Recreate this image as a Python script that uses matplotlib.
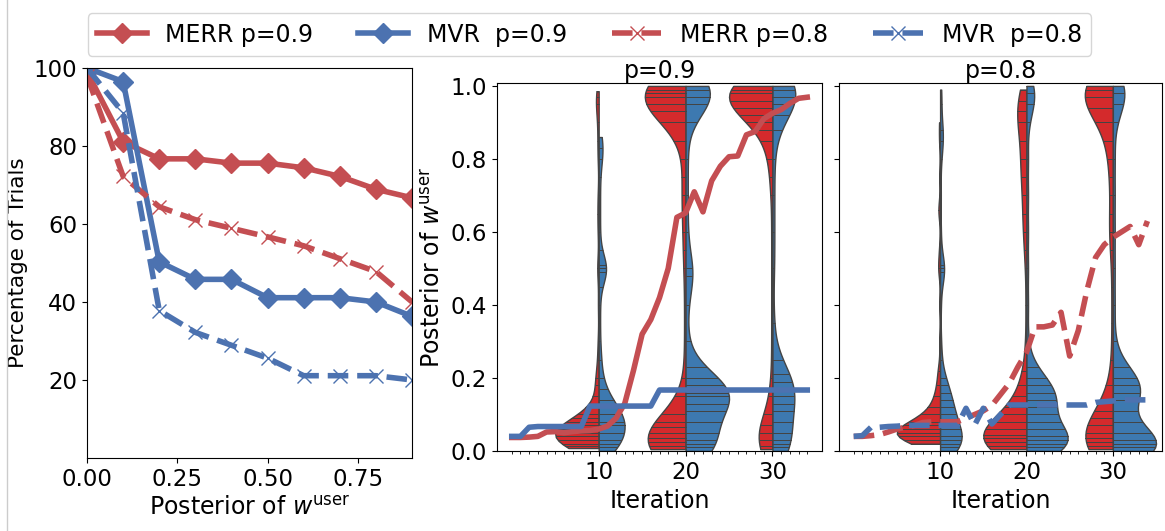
import numpy as np
import pandas as pd
import matplotlib
matplotlib.use("Agg")
import matplotlib.pyplot as plt
import seaborn as sns
from matplotlib.lines import Line2D

RED = "#c44e52"
BLUE = "#4c72b0"
VRED = "#d42a2c"
VBLUE = "#3d79b0"

# ---- left panel: percentage of trials vs posterior threshold ----
thresh = [0.0, 0.1, 0.2, 0.3, 0.4, 0.5, 0.6, 0.7, 0.8, 0.9]
merr_09 = [99, 81.1, 76.7, 76.7, 75.6, 75.6, 74.4, 72.2, 68.9, 66.7]
mvr_09 = [100, 96.5, 50.3, 45.8, 45.8, 41.1, 41.1, 41.1, 40.0, 36.3]
merr_08 = [98, 72.2, 64.4, 61.1, 58.9, 56.7, 54.4, 51.1, 47.8, 40.0]
mvr_08 = [100, 88.5, 37.8, 32.2, 28.9, 25.6, 21.1, 21.1, 21.1, 20.0]

# ---- mean posterior per iteration ----
iters = list(range(35))
line_merr_09 = [0.037, 0.037, 0.038, 0.04, 0.052, 0.053, 0.05, 0.053, 0.055, 0.056,
                0.06, 0.068, 0.09, 0.13, 0.22, 0.32, 0.36, 0.42, 0.5, 0.64,
                0.652, 0.71, 0.655, 0.74, 0.78, 0.806, 0.808, 0.866, 0.875, 0.91,
                0.925, 0.935, 0.952, 0.966, 0.969]
line_mvr_09 = [0.04, 0.04, 0.065, 0.067, 0.067, 0.067, 0.067, 0.067, 0.067, 0.123,
               0.123, 0.123, 0.123, 0.123, 0.123, 0.123, 0.123, 0.167, 0.167, 0.167,
               0.167, 0.167, 0.167, 0.167, 0.167, 0.167, 0.167, 0.167, 0.167, 0.167,
               0.167, 0.167, 0.167, 0.167, 0.167]
line_merr_08 = [0.04, 0.04, 0.042, 0.045, 0.052, 0.06, 0.065, 0.07, 0.078, 0.08,
                0.08, 0.08, 0.08, 0.09, 0.1, 0.11, 0.125, 0.155, 0.185, 0.23,
                0.27, 0.34, 0.34, 0.345, 0.38, 0.26, 0.33, 0.44, 0.53, 0.565,
                0.585, 0.6, 0.615, 0.565, 0.63]
line_mvr_08 = [0.04, 0.042, 0.065, 0.065, 0.067, 0.068, 0.07, 0.07, 0.07, 0.07,
               0.07, 0.07, 0.07, 0.117, 0.071, 0.117, 0.074, 0.1, 0.126, 0.126,
               0.126, 0.126, 0.126, 0.126, 0.126, 0.126, 0.126, 0.126, 0.133, 0.135,
               0.137, 0.14, 0.14, 0.14, 0.14]

# ---- posterior samples at iterations 10/20/30 (value, count) ----
# p = 0.9
s09_merr_10 = ([0.008, 0.015, 0.02, 0.03, 0.04, 0.05, 0.06, 0.07, 0.08, 0.09, 0.1, 0.12, 0.15, 0.18,
                0.2, 0.25, 0.3, 0.4, 0.5, 0.6, 0.65, 0.7, 0.8, 0.85, 0.9, 0.95, 0.97, 0.985],
               [2, 4, 7, 12, 14, 12, 8, 6, 5, 3, 2, 2, 1, 2, 2, 1, 1, 1, 2, 1, 1, 1, 1, 1, 1, 2, 1, 1])
s09_mvr_10 = ([0.0, 0.01, 0.02, 0.03, 0.05, 0.07, 0.08, 0.1, 0.12, 0.14, 0.17, 0.2, 0.25, 0.3,
               0.35, 0.4, 0.45, 0.49, 0.5, 0.51, 0.55, 0.6, 0.65, 0.7, 0.75, 0.8, 0.83, 0.86],
              [4, 4, 5, 5, 6, 7, 7, 7, 6, 4, 3, 2, 2, 1, 1, 1, 1, 3, 4, 2, 1, 1, 1, 1, 1, 2, 2, 2])
s09_merr_20 = ([0.005, 0.015, 0.025, 0.035, 0.05, 0.065, 0.08, 0.1, 0.15, 0.2, 0.3, 0.4, 0.5, 0.55,
                0.6, 0.65, 0.7, 0.75, 0.8, 0.85, 0.9, 0.93, 0.95, 0.97, 0.98, 0.99, 1.0],
               [5, 9, 10, 8, 5, 3, 2, 2, 1, 1, 1, 1, 1, 1, 1, 1, 2, 1, 1, 1, 3, 4, 6, 10, 10, 8, 7])
s09_mvr_20 = ([0.0, 0.01, 0.02, 0.03, 0.05, 0.08, 0.11, 0.13, 0.15, 0.16, 0.18, 0.2, 0.23, 0.3,
               0.4, 0.48, 0.5, 0.6, 0.7, 0.8, 0.9, 0.95, 0.97, 0.99, 1.0],
              [3, 4, 4, 3, 2, 2, 3, 5, 6, 6, 5, 3, 1, 1, 1, 2, 2, 1, 1, 1, 1, 3, 4, 5, 4])
s09_merr_30 = ([0.005, 0.015, 0.03, 0.05, 0.07, 0.1, 0.15, 0.2, 0.3, 0.4, 0.5, 0.6, 0.7, 0.75,
                0.8, 0.85, 0.88, 0.9, 0.92, 0.94, 0.96, 0.98, 0.99, 1.0],
               [2, 4, 4, 3, 2, 2, 1, 1, 1, 1, 1, 1, 1, 1, 2, 2, 2, 3, 4, 6, 8, 12, 10, 10])
s09_mvr_30 = ([0.0, 0.01, 0.02, 0.03, 0.05, 0.08, 0.11, 0.13, 0.15, 0.17, 0.19, 0.21, 0.25, 0.35,
               0.5, 0.6, 0.7, 0.8, 0.88, 0.92, 0.95, 0.97, 0.99, 1.0],
              [2, 2, 3, 3, 2, 1, 2, 3, 3, 4, 3, 3, 1, 1, 1, 1, 1, 1, 1, 2, 3, 4, 5, 6])
# p = 0.8
s08_merr_10 = ([0.02, 0.03, 0.04, 0.05, 0.06, 0.07, 0.08, 0.1, 0.12, 0.15, 0.18, 0.22, 0.3, 0.4,
                0.5, 0.55, 0.66, 0.75, 0.85, 0.9],
               [3, 8, 14, 14, 8, 6, 5, 5, 4, 3, 2, 2, 1, 1, 2, 1, 2, 1, 1, 1])
s08_mvr_10 = ([0.0, 0.01, 0.02, 0.03, 0.04, 0.06, 0.08, 0.1, 0.12, 0.14, 0.16, 0.18, 0.2, 0.25,
               0.3, 0.4, 0.49, 0.5, 0.51, 0.6, 0.7, 0.8, 0.85, 0.88, 0.95, 0.99],
              [4, 5, 6, 6, 5, 5, 5, 5, 4, 4, 3, 3, 2, 1, 1, 1, 2, 3, 1, 1, 1, 1, 2, 2, 1, 1])
s08_merr_20 = ([0.005, 0.015, 0.025, 0.035, 0.045, 0.06, 0.08, 0.1, 0.12, 0.15, 0.18, 0.22, 0.3,
                0.4, 0.5, 0.55, 0.6, 0.65, 0.7, 0.75, 0.8, 0.85, 0.9, 0.93, 0.96, 0.99],
               [5, 8, 11, 11, 9, 6, 5, 4, 4, 3, 2, 2, 1, 1, 1, 1, 2, 2, 2, 3, 3, 3, 4, 3, 3, 3])
s08_mvr_20 = ([0.0, 0.01, 0.02, 0.03, 0.04, 0.06, 0.08, 0.1, 0.12, 0.14, 0.16, 0.18, 0.2, 0.23,
               0.3, 0.4, 0.5, 0.6, 0.7, 0.8, 0.9, 0.95, 0.98, 1.0],
              [4, 5, 6, 6, 5, 3, 3, 3, 4, 5, 5, 4, 3, 2, 1, 1, 1, 1, 1, 1, 1, 2, 2, 2])
s08_merr_30 = ([0.005, 0.015, 0.025, 0.035, 0.05, 0.07, 0.09, 0.11, 0.14, 0.18, 0.25, 0.35, 0.45,
                0.55, 0.6, 0.65, 0.7, 0.75, 0.8, 0.85, 0.9, 0.94, 0.97, 0.99, 1.0],
               [4, 5, 6, 5, 4, 3, 3, 2, 2, 1, 1, 1, 1, 1, 2, 1, 1, 1, 2, 2, 3, 5, 7, 8, 10])
s08_mvr_30 = ([0.0, 0.01, 0.02, 0.03, 0.05, 0.08, 0.11, 0.14, 0.16, 0.18, 0.2, 0.23, 0.3, 0.4,
               0.5, 0.6, 0.7, 0.8, 0.9, 0.95, 0.98, 1.0],
              [6, 8, 7, 5, 3, 1, 2, 3, 5, 5, 4, 2, 1, 1, 1, 1, 1, 1, 1, 2, 3, 3])


def make_frame(groups):
    rows = []
    for it, method, (vals, cnts) in groups:
        for v in np.repeat(vals, cnts):
            rows.append((it, v, method))
    return pd.DataFrame(rows, columns=["iteration", "posterior", "method"])


df09 = make_frame([(10, "MERR", s09_merr_10), (10, "MVR", s09_mvr_10),
                   (20, "MERR", s09_merr_20), (20, "MVR", s09_mvr_20),
                   (30, "MERR", s09_merr_30), (30, "MVR", s09_mvr_30)])
df08 = make_frame([(10, "MERR", s08_merr_10), (10, "MVR", s08_mvr_10),
                   (20, "MERR", s08_merr_20), (20, "MVR", s08_mvr_20),
                   (30, "MERR", s08_merr_30), (30, "MVR", s08_mvr_30)])

plt.rcParams["font.family"] = "DejaVu Sans"
fig = plt.figure(figsize=(11.65, 5.31), dpi=100)
ax1 = fig.add_axes([0.0747, 0.1375, 0.279, 0.7345])
ax2 = fig.add_axes([0.4266, 0.1507, 0.279, 0.693])
ax3 = fig.add_axes([0.7202, 0.1507, 0.2773, 0.693], sharey=ax2)

# left panel
l1, = ax1.plot(thresh, merr_09, color=RED, lw=4, marker="D", ms=10, label="MERR p=0.9")
l2, = ax1.plot(thresh, mvr_09, color=BLUE, lw=4, marker="D", ms=10, label="MVR  p=0.9")
l3, = ax1.plot(thresh, merr_08, color=RED, lw=4, ls="--", marker="x", ms=10, mew=1,
               label="MERR p=0.8")
l4, = ax1.plot(thresh, mvr_08, color=BLUE, lw=4, ls="--", marker="x", ms=10, mew=1,
               label="MVR  p=0.8")
ax1.set_xlim(0, 0.9)
ax1.set_ylim(0, 100)
ax1.set_xticks([0.0, 0.25, 0.5, 0.75])
ax1.set_xticklabels(["0.00", "0.25", "0.50", "0.75"])
ax1.set_yticks([20, 40, 60, 80, 100])
ax1.set_xlabel(r"Posterior of $w^{\rm user}$", fontsize=17)
ax1.set_ylabel("Percentage of Trials", fontsize=15.5)
ax1.tick_params(labelsize=16.5)

for ax, df, lm, lv, ls, title in [(ax2, df09, line_merr_09, line_mvr_09, "-", "p=0.9"),
                                   (ax3, df08, line_merr_08, line_mvr_08, "--", "p=0.8")]:
    # each iteration drawn on its own so both halves share one density scale
    for it in [10, 20, 30]:
        sns.violinplot(data=df[df["iteration"] == it], x="iteration", y="posterior",
                       hue="method", hue_order=["MERR", "MVR"], split=True,
                       inner="stick", cut=0, native_scale=True, width=10.0,
                       common_norm=True, palette={"MERR": VRED, "MVR": VBLUE},
                       saturation=1, linecolor="#444444", linewidth=1.0, bw_method=0.15,
                       inner_kws=dict(linewidth=0.7), legend=False, ax=ax)
    ax.plot(iters, lm, color=RED, lw=4, ls=ls, zorder=5)
    ax.plot(iters, lv, color=BLUE, lw=4, ls=ls, zorder=5)
    ax.set_xlim(-1.7, 35.7)
    ax.set_ylim(0, 1.008)
    ax.set_xticks([10, 20, 30])
    ax.set_xticks(range(35), minor=True)
    ax.set_xticklabels(["10", "20", "30"])
    ax.set_xlabel("Iteration", fontsize=17)
    ax.set_title(title, fontsize=17, pad=2)
    ax.tick_params(labelsize=16.5)

ax2.set_yticks([0.0, 0.2, 0.4, 0.6, 0.8, 1.0])
ax2.set_ylabel(r"Posterior of $w^{\rm user}$", fontsize=17)
ax3.set_ylabel("")
ax3.tick_params(axis="y", labelleft=False)

fig.legend(handles=[l1, l2, l3, l4], loc="upper center", bbox_to_anchor=(0.506, 0.975),
           borderaxespad=0, ncol=4, fontsize=17, columnspacing=1.9, handlelength=2.1)
fig.add_artist(Line2D([0.006, 0.006], [0, 1], color="#cccccc", lw=1))

fig.savefig("out.png", dpi=100)
